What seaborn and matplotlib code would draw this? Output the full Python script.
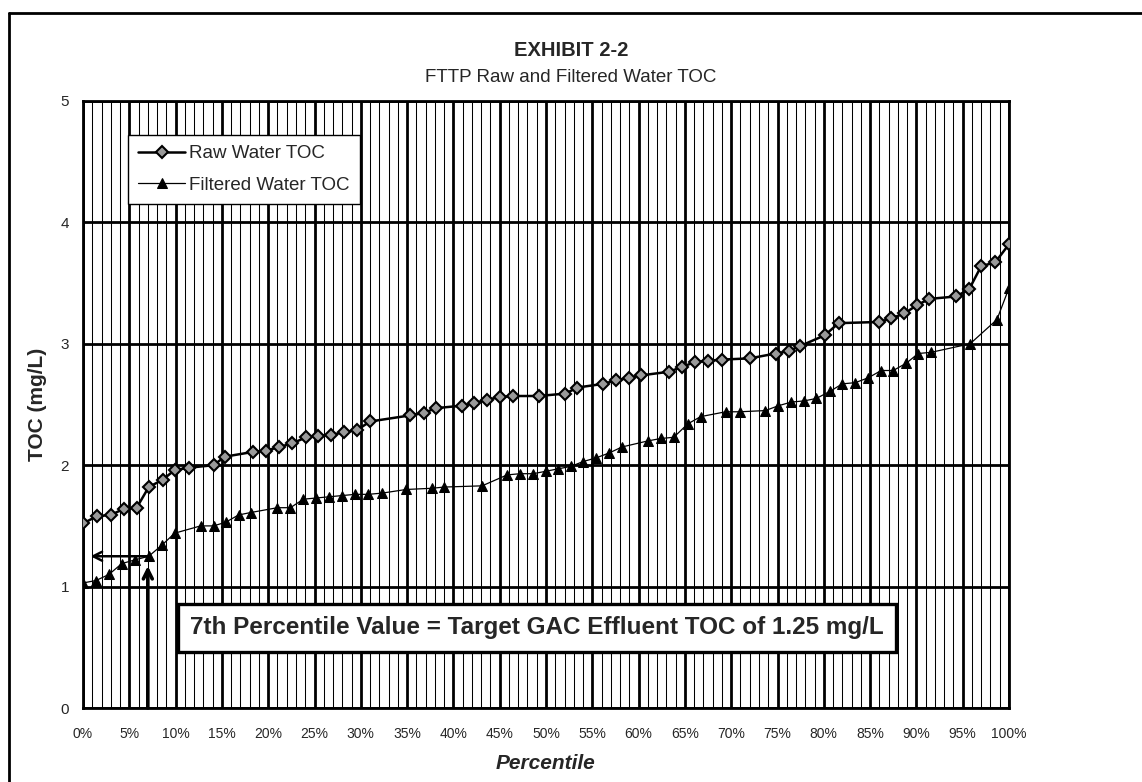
import numpy as np
import pandas as pd

import matplotlib
matplotlib.use('Agg')

import matplotlib.pyplot as plt
from matplotlib.ticker import MultipleLocator, FuncFormatter
from matplotlib.lines import Line2D
import seaborn as sns
import warnings
warnings.filterwarnings('ignore')

raw_pct = [0.0, 1.5, 3.0, 4.4, 5.8, 7.1, 8.6, 9.9, 11.5, 14.1, 15.3, 18.4, 19.8, 21.2, 22.6,
           24.1, 25.4, 26.8, 28.2, 29.6, 31.0, 35.3, 36.8, 38.1, 40.9, 42.2, 43.6, 45.0, 46.4,
           49.2, 52.1, 53.4, 56.2, 57.6, 59.0, 60.3, 63.3, 64.7, 66.1, 67.5, 69.0, 72.0, 74.8,
           76.2, 77.4, 80.1, 81.6, 86.0, 87.3, 88.7, 90.1, 91.4, 94.3, 95.7, 97.0, 98.5, 100.0]
raw_toc = [1.52, 1.58, 1.59, 1.64, 1.65, 1.82, 1.88, 1.96, 1.98, 2.00, 2.07, 2.11, 2.12, 2.15, 2.18,
           2.23, 2.24, 2.25, 2.27, 2.29, 2.36, 2.41, 2.43, 2.47, 2.49, 2.51, 2.54, 2.56, 2.57,
           2.57, 2.59, 2.64, 2.67, 2.70, 2.72, 2.74, 2.77, 2.81, 2.85, 2.86, 2.87, 2.88, 2.92,
           2.94, 2.98, 3.07, 3.17, 3.18, 3.21, 3.25, 3.32, 3.37, 3.39, 3.45, 3.64, 3.67, 3.82]

filt_pct = [0.0, 1.4, 2.8, 4.2, 5.6, 7.1, 8.5, 9.9, 12.7, 14.1, 15.4, 16.8, 18.1, 21.0, 22.4,
            23.8, 25.2, 26.6, 28.0, 29.4, 30.8, 32.3, 34.9, 37.7, 39.0, 43.1, 45.8, 47.2, 48.6,
            50.0, 51.3, 52.7, 54.0, 55.4, 56.8, 58.2, 61.0, 62.4, 63.8, 65.3, 66.7, 69.4, 70.9,
            73.7, 75.1, 76.5, 77.9, 79.2, 80.7, 82.0, 83.4, 84.8, 86.2, 87.5, 88.9, 90.2, 91.6,
            95.8, 98.7, 100.0]
filt_toc = [1.03, 1.05, 1.10, 1.19, 1.22, 1.25, 1.34, 1.44, 1.50, 1.50, 1.53, 1.59, 1.61, 1.65, 1.65,
            1.72, 1.73, 1.74, 1.75, 1.76, 1.76, 1.77, 1.80, 1.81, 1.82, 1.83, 1.92, 1.93, 1.93,
            1.95, 1.97, 1.99, 2.03, 2.06, 2.10, 2.15, 2.20, 2.22, 2.23, 2.34, 2.40, 2.44, 2.44,
            2.45, 2.49, 2.52, 2.53, 2.55, 2.61, 2.67, 2.68, 2.72, 2.78, 2.78, 2.84, 2.92, 2.93,
            3.00, 3.20, 3.46]

target_pct = 7
target_toc = 1.25
note = "7th Percentile Value = Target GAC Effluent TOC of 1.25 mg/L"

sns.set_style('white')
plt.rcParams['font.family'] = ['Liberation Sans', 'DejaVu Sans']

W, H = 1142, 782
fig = plt.figure(figsize=(W / 100, H / 100), dpi=100)
ax = fig.add_axes([83 / W, 1 - 708 / H, (1009 - 83) / W, (708 - 101) / H])

# Grid: thick every 5% / 1 mg/L, thin every 1%
ax.set_xlim(0, 100)
ax.set_ylim(0, 5)
ax.xaxis.set_major_locator(MultipleLocator(5))
ax.xaxis.set_minor_locator(MultipleLocator(1))
ax.yaxis.set_major_locator(MultipleLocator(1))
ax.grid(which='major', axis='both', color='black', lw=2.0)
ax.grid(which='minor', axis='x', color='black', lw=0.75)
ax.set_axisbelow(True)
for s in ax.spines.values():
    s.set_color('black')
    s.set_linewidth(2.0)

# Series
sns.lineplot(x=raw_pct, y=raw_toc, ax=ax, sort=False, color='black', lw=1.8,
             marker='D', markersize=6.5, markerfacecolor='#9a9a9a', markeredgecolor='black',
             markeredgewidth=1.5, label='Raw Water TOC', zorder=5)
sns.lineplot(x=filt_pct, y=filt_toc, ax=ax, sort=False, color='black', lw=0.9,
             marker='^', markersize=7.5, markerfacecolor='black', markeredgecolor='black',
             label='Filtered Water TOC', zorder=5)

# Ticks
ax.xaxis.set_major_formatter(FuncFormatter(lambda v, p: f"{v:.0f}%"))
ax.tick_params(axis='x', which='major', direction='out', length=5, width=1.5, pad=9, labelsize=10)
ax.tick_params(axis='x', which='minor', direction='inout', length=4, width=0.8)
ax.tick_params(axis='y', which='major', direction='inout', length=8, width=1.2, pad=6, labelsize=11)

ax.set_xlabel('Percentile', fontsize=15, fontweight='bold', fontstyle='italic')
ax.xaxis.set_label_coords(0.5, -0.075)
ax.set_ylabel('TOC (mg/L)', fontsize=15, fontweight='bold')
ax.yaxis.set_label_coords(-0.039, 0.5)

# Legend
leg = ax.legend(loc='upper left', bbox_to_anchor=(0.0486, 0.944), borderaxespad=0,
                fontsize=13.5, frameon=True, fancybox=False, handlelength=2.5,
                handletextpad=0.2, labelspacing=0.75, borderpad=0.55)
leg.get_frame().set_edgecolor('black')
leg.get_frame().set_linewidth(1.0)
leg.get_frame().set_alpha(1)

# 7th percentile arrows and note
ax.annotate('', xy=(0.8, target_toc), xytext=(target_pct, target_toc),
            arrowprops=dict(arrowstyle='->', lw=1.8, color='black', shrinkA=0, shrinkB=0,
                            mutation_scale=16), zorder=6)
ax.annotate('', xy=(target_pct, 1.17), xytext=(target_pct, 0),
            arrowprops=dict(arrowstyle='->', lw=2.6, color='black', shrinkA=0, shrinkB=0,
                            mutation_scale=16), zorder=6)
ax.text(49, 0.66, note, ha='center', va='center', fontsize=17.5, fontweight='bold', zorder=7,
        bbox=dict(boxstyle='square,pad=0.5', fc='white', ec='black', lw=2.4))

# Titles
fig.text(0.50, 1 - 50 / H, 'EXHIBIT 2-2', ha='center', va='center', fontsize=14.5, fontweight='bold')
fig.text(0.50, 1 - 77 / H, 'FTTP Raw and Filtered Water TOC', ha='center', va='center', fontsize=13.5)

# Page frame lines
fig.add_artist(Line2D([9 / W, 9 / W], [0, 1 - 13 / H], transform=fig.transFigure, color='black', lw=2))
fig.add_artist(Line2D([9 / W, 1], [1 - 13 / H, 1 - 13 / H], transform=fig.transFigure, color='black', lw=2))

fig.savefig('out.png', dpi=100)
plt.close(fig)
